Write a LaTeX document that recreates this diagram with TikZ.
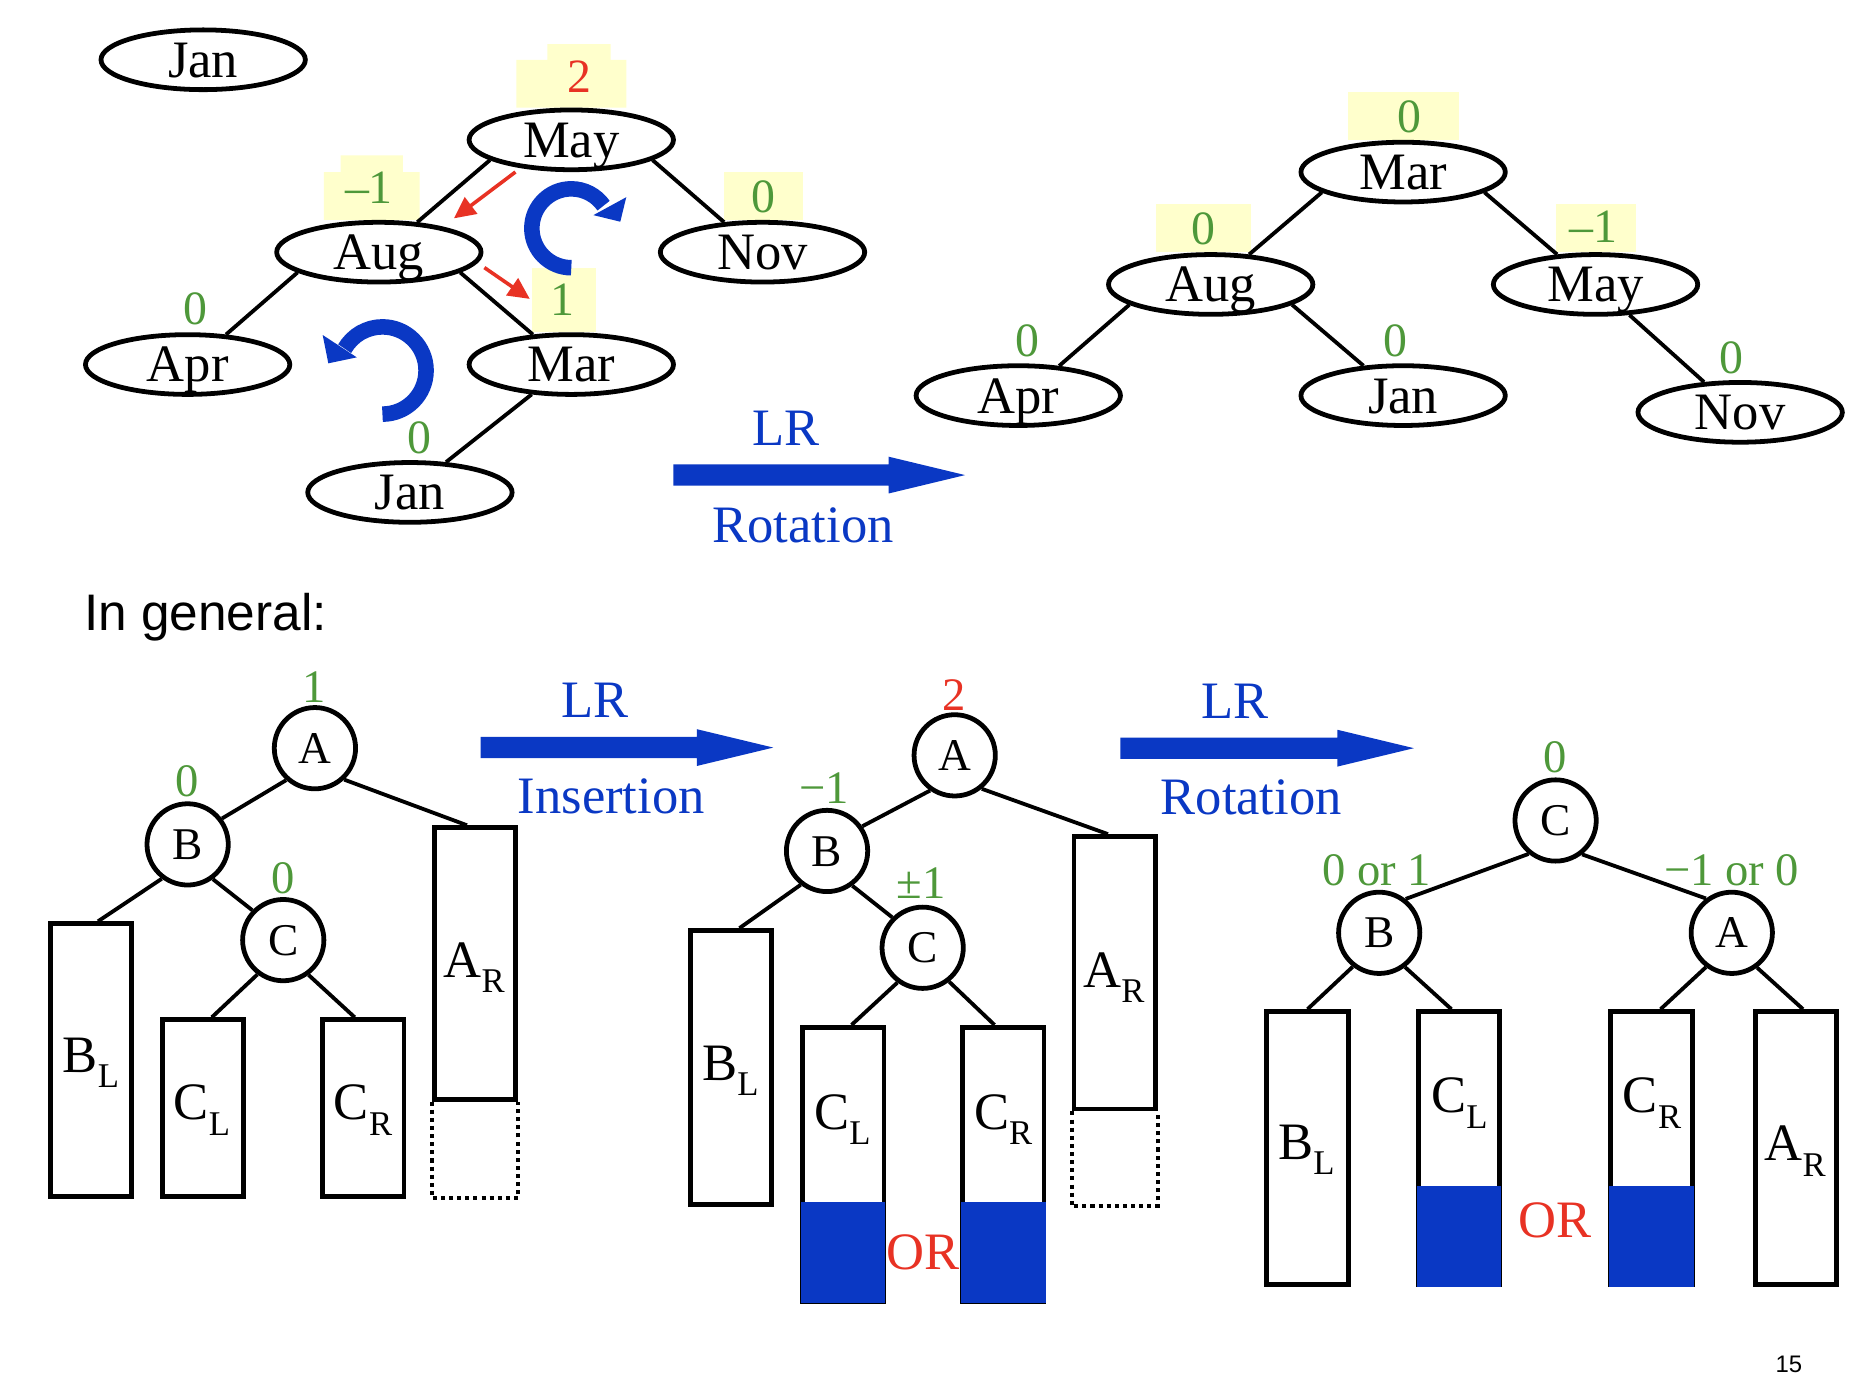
\documentclass[tikz,border=0pt]{standalone}
\usepackage{fontspec}
\setmainfont{Liberation Serif}
\setsansfont{Liberation Sans}
\usetikzlibrary{arrows.meta,shapes.geometric,calc}
\definecolor{grn}{RGB}{78,152,58}
\definecolor{rd}{RGB}{232,50,36}
\definecolor{blu}{RGB}{10,56,196}
\definecolor{ylw}{RGB}{255,255,204}
\newcommand\tsub[2]{#1\raisebox{-6.3pt}{\fontsize{14.5}{14.5}\selectfont #2}}
\newcommand\blockarrow[2]{\fill[blu] ($(#1)+(0,-8.9)$) -- ($(#2)+(-64,-8.9)$) -- ($(#2)+(-64,-15.4)$) -- (#2) -- ($(#2)+(-64,15.4)$) -- ($(#2)+(-64,8.9)$) -- ($(#1)+(0,8.9)$) -- cycle;}
\begin{document}
\begin{tikzpicture}[x=0.5pt,y=-0.5pt,
 ell/.style={ellipse,draw,line width=2pt,minimum width=85.5pt,minimum height=25pt,inner sep=0pt,font=\fontsize{22}{22}\selectfont,text height=14.6pt,text depth=0pt},
 edge/.style={line width=1.6pt},
 num/.style={font=\fontsize{20}{20}\selectfont,text height=13.6pt,text depth=0pt,inner sep=0pt,text=grn},
 bnum/.style={font=\fontsize{19.5}{20}\selectfont,text height=13.2pt,text depth=0pt,inner sep=0pt,text=grn},
 circ/.style={circle,draw,line width=2pt,minimum size=34pt,inner sep=0pt,font=\fontsize{19}{19}\selectfont,text height=12.6pt,text depth=0pt},
 tbox/.style={rectangle,draw,line width=2pt,minimum width=34pt,inner sep=0pt},
 sublab/.style={font=\fontsize{22}{22}\selectfont,inner sep=0pt,anchor=base},
 blab/.style={font=\fontsize{22}{22}\selectfont,text height=14.6pt,text depth=0pt,inner sep=0pt,text=blu},
 orlab/.style={font=\fontsize{22}{22}\selectfont,text height=14.6pt,text depth=0pt,inner sep=0pt,text=rd},
 rotline/.style={blu,line width=6.5pt},
 redarrow/.style={rd,line width=1.5pt,-{Triangle[width=8.5pt,length=9pt]}},
 dotbox/.style={line width=1.7pt,dash pattern=on 1.7pt off 1.7pt}
]
\useasboundingbox (0,0) rectangle (1568,1168);
\fill[white] (0,0) rectangle (1568,1168);

% ---------- yellow highlights ----------
\fill[ylw] (432,50) rectangle (524,90) (458,37) rectangle (511,50);
\fill[ylw] (271,144) rectangle (351,184) (285,130) rectangle (337,144);
\fill[ylw] (606,144) rectangle (672,184);
\fill[ylw] (445,224) rectangle (499,278);
\fill[ylw] (1128,77) rectangle (1221,117);
\fill[ylw] (967,171) rectangle (1047,211);
\fill[ylw] (1302,171) rectangle (1369,211);

% ---------- top-left tree ----------
\node[ell] (jan0) at (170,50) {Jan};
\node[ell] (may) at (478,117) {May};
\node[ell] (aug) at (317,211) {Aug};
\node[ell] (nov) at (638,211) {Nov};
\node[ell] (apr) at (157,305) {Apr};
\node[ell] (mar) at (478,305) {Mar};
\node[ell] (jan) at (343,412) {Jan};
\draw[edge] (may.194) -- (aug.38);
\draw[edge] (may.346) -- (nov.142);
\draw[edge] (aug.194) -- (apr.38);
\draw[edge] (aug.346) -- (mar.142);
\draw[edge] (mar.217) -- (jan.40);

\node[num,text=rd] (nmay) at (484.6,64.2) {2};
\node[num] (naug) at (308.7,156.7) {\textendash1};
\node[num] (nnov) at (638.5,164.2) {0};
\node[num] (nmar) at (471,250.7) {1};
\node[num] (napr) at (163.5,258.2) {0};
\node[num] (njan) at (351,365.7) {0};

\coordinate (r1s) at (431.3,143.9);
\coordinate (r1e) at (379.8,182.7);
\coordinate (r2s) at (405.3,223.9);
\coordinate (r2e) at (443.3,250.1);
\draw[redarrow] (r1s) -- (r1e);
\draw[redarrow] (r2s) -- (r2e);

% rotation arrows
\coordinate (cwc) at (478,191);
\draw[rotline] ([shift={(0,33)}]cwc) arc[start angle=270,end angle=35,radius=16.5pt];
\fill[blu] ([shift={(18.5,-11)}]cwc) -- ([shift={(46,-26)}]cwc) -- ([shift={(41,-5.5)}]cwc) -- cycle;
\coordinate (ccwc) at (320,310);
\draw[rotline] ([shift={(0,36.5)}]ccwc) arc[start angle=-90,end angle=150,radius=18.25pt];
\fill[blu] ([shift={(-50,-29.7)}]ccwc) -- ([shift={(-21.5,-11)}]ccwc) -- ([shift={(-45.3,-6)}]ccwc) -- cycle;

% top arrow
\coordinate (ta1) at (563.5,397.5);
\coordinate (ta2) at (807.5,397.5);
\blockarrow{ta1}{ta2}
\node[blab] (tlr) at (658,358) {LR};
\node[blab] (trot) at (672,439) {Rotation};

% ---------- top-right tree ----------
\node[ell] (mar2) at (1174,144) {Mar};
\node[ell] (aug2) at (1013,238) {Aug};
\node[ell] (may2) at (1335,238) {May};
\node[ell] (apr2) at (852,331) {Apr};
\node[ell] (jan2) at (1174,331) {Jan};
\node[ell] (nov2) at (1456,345) {Nov};
\draw[edge] (mar2.194) -- (aug2.38);
\draw[edge] (mar2.346) -- (may2.142);
\draw[edge] (aug2.194) -- (apr2.36);
\draw[edge] (aug2.346) -- (jan2.143);
\draw[edge] (may2.318) -- (nov2.140);
\node[num] (nmar2) at (1179.5,97.6) {0};
\node[num] (naug2) at (1007,191) {0};
\node[num] (nmay2) at (1333.4,189.7) {\textendash1};
\node[num] (napr2) at (859.5,284.6) {0};
\node[num] (njan2) at (1167.3,284.6) {0};
\node[num] (nnov2) at (1448.6,298.5) {0};

% ---------- In general ----------
\node[font=\sffamily\fontsize{21.5}{22}\selectfont,anchor=base west,inner sep=0pt] (ingen) at (70,527.5) {In general:};

% ---------- tree 1 ----------
\node[tbox,minimum height=114pt] (bl1) at (76,886.9) {};
\node[tbox,minimum height=73.8pt] (cl1) at (169.8,927) {};
\node[tbox,minimum height=73.8pt] (cr1) at (304,927) {};
\node[tbox,minimum height=113.6pt] (ar1) at (397.5,806.1) {};
\draw[dotbox] (ar1.south west) -- ++(0,81) -| (ar1.south east);
\node[circ] (A1) at (263.5,626) {A};
\node[circ] (B1) at (157,706.5) {B};
\node[circ] (C1) at (237,786.6) {C};
\draw[edge] (A1.228) -- (B1.37);
\draw[edge] (A1.313) -- ([xshift=-3.4pt]ar1.north);
\draw[edge] (B1.233) -- ([xshift=3pt]bl1.north);
\draw[edge] (B1.306) -- (C1.136);
\draw[edge] (C1.233) -- ([xshift=3.7pt]cl1.north);
\draw[edge] (C1.306) -- ([xshift=-3.6pt]cr1.north);
\node[bnum] (nA1) at (262.6,574.5) {1};
\node[bnum] (nB1) at (156.7,653.2) {0};
\node[bnum] (nC1) at (237,734) {0};
\node[sublab] (lbl1) at (76,897.4) {\tsub{B}{L}};
\node[sublab] (lcl1) at (169,937.1) {\tsub{C}{L}};
\node[sublab] (lcr1) at (303.8,937.1) {\tsub{C}{R}};
\node[sublab] (lar1) at (396.7,817.5) {\tsub{A}{R}};

% arrow 1
\coordinate (a1s) at (402.2,625.5);
\coordinate (a1e) at (647,625.5);
\blockarrow{a1s}{a1e}
\node[blab] (lr1) at (497.8,586) {LR};
\node[blab] (ins1) at (511.5,666.4) {Insertion};

% ---------- tree 2 ----------
\node[tbox,minimum height=114.7pt] (bl2) at (611.5,893.3) {};
\node[tbox,minimum height=114.75pt] (cl2) at (705.7,974.3) {};
\node[tbox,minimum height=114.75pt] (cr2) at (839.5,974.3) {};
\fill[blu] (670.6,1005.5) rectangle (740.7,1090.5);
\fill[blu] (804.1,1005.5) rectangle (874.8,1090.5);
\node[tbox,minimum height=114pt] (ar2) at (932.6,813.9) {};
\draw[dotbox] (ar2.south west) -- ++(0,79.4) -| (ar2.south east);
\node[circ] (A2) at (798.8,632) {A};
\node[circ] (B2) at (692,712) {B};
\node[circ] (C2) at (772,793) {C};
\draw[edge] (A2.235) -- (B2.35);
\draw[edge] (A2.309) -- ([xshift=-2.8pt]ar2.north);
\draw[edge] (B2.232) -- ([xshift=3.6pt]bl2.north);
\draw[edge] (B2.306) -- (C2.135);
\draw[edge] (C2.234) -- ([xshift=3.4pt]cl2.north);
\draw[edge] (C2.308) -- ([xshift=-3.7pt]cr2.north);
\node[bnum,text=rd] (nA2) at (798.6,580.9) {2};
\node[bnum] (nB2) at (689.5,659) {−1};
\node[bnum] (nC2) at (770.8,738.7) {±1};
\node[sublab] (lbl2) at (611.1,903.9) {\tsub{B}{L}};
\node[sublab] (lcl2) at (704.8,945) {\tsub{C}{L}};
\node[sublab] (lcr2) at (839.4,945) {\tsub{C}{R}};
\node[sublab] (lar2) at (932.1,825.9) {\tsub{A}{R}};
\node[orlab] (or2) at (772,1047.2) {OR};

% arrow 2
\coordinate (a2s) at (937.5,626);
\coordinate (a2e) at (1183,626);
\blockarrow{a2s}{a2e}
\node[blab] (lr2) at (1033,586.4) {LR};
\node[blab] (rot2) at (1046.9,667) {Rotation};

% ---------- tree 3 ----------
\node[tbox,minimum height=114.3pt] (bl3) at (1094,960.7) {};
\node[tbox,minimum height=114.3pt] (cl3) at (1220.8,960.7) {};
\node[tbox,minimum height=114.3pt] (cr3) at (1381.8,960.7) {};
\node[tbox,minimum height=114.3pt] (ar3) at (1502.6,960.7) {};
\fill[blu] (1185.7,992.2) rectangle (1256.2,1077);
\fill[blu] (1346.6,992.2) rectangle (1417.2,1077);
\node[circ] (C3) at (1301.6,686.5) {C};
\node[circ] (B3) at (1154,780.5) {B};
\node[circ] (A3) at (1449,780.5) {A};
\draw[edge] (C3.231) -- (B3.52);
\draw[edge] (C3.308) -- (A3.127);
\draw[edge] (B3.232) -- (bl3.north);
\draw[edge] (B3.307) -- ([xshift=-3.2pt]cl3.north);
\draw[edge] (A3.233) -- ([xshift=3.8pt]cr3.north);
\draw[edge] (A3.306) -- ([xshift=3pt]ar3.north);
\node[bnum] (nC3) at (1300.9,633) {0};
\node[bnum] (nB3) at (1152,727.3) {0 or 1};
\node[bnum] (nA3) at (1448.8,727.3) {−1 or 0};
\node[sublab] (lbl3) at (1093,970.5) {\tsub{B}{L}};
\node[sublab] (lcl3) at (1221,931.2) {\tsub{C}{L}};
\node[sublab] (lcr3) at (1382.3,931.2) {\tsub{C}{R}};
\node[sublab] (lar3) at (1502,971.4) {\tsub{A}{R}};
\node[orlab] (or3) at (1301.5,1021.2) {OR};

% page number
\node[font=\sffamily\fontsize{10}{10}\selectfont,text height=7.2pt,text depth=0pt,inner sep=0pt] (pg) at (1496.7,1141) {15};
\end{tikzpicture}
\end{document}
